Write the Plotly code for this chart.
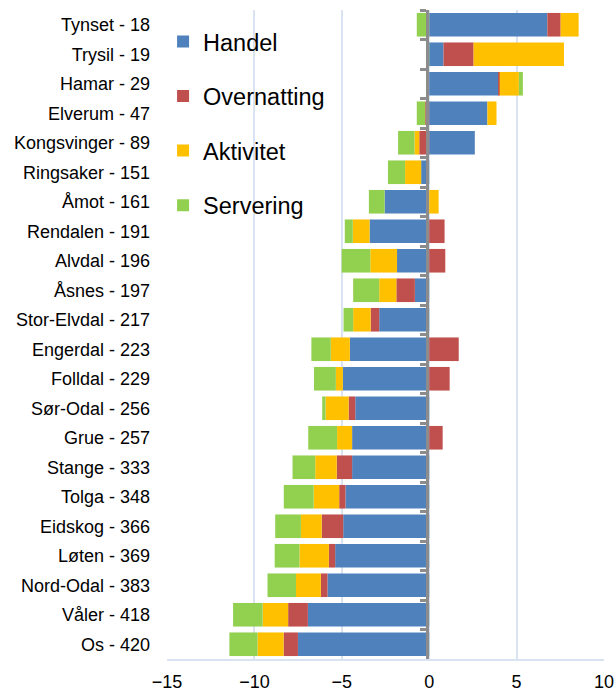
import plotly.graph_objects as go

kommuner = ["Tynset - 18", "Trysil - 19", "Hamar - 29", "Elverum - 47", "Kongsvinger - 89",
            "Ringsaker - 151", "Åmot - 161", "Rendalen - 191", "Alvdal - 196", "Åsnes - 197",
            "Stor-Elvdal - 217", "Engerdal - 223", "Folldal - 229", "Sør-Odal - 256", "Grue - 257",
            "Stange - 333", "Tolga - 348", "Eidskog - 366", "Løten - 369", "Nord-Odal - 383",
            "Våler - 418", "Os - 420"]

handel = [6.76, 0.82, 3.98, 3.33, 2.61, -0.46, -2.55, -3.41, -1.84, -0.82, -2.86,
          -4.54, -4.94, -4.23, -4.41, -4.41, -4.79, -4.92, -5.38, -5.82, -6.94, -7.51]
overnatting = [0.76, 1.72, 0.05, -0.23, -0.57, 0.0, 0.0, 0.88, 0.92, -1.06, -0.49,
               1.69, 1.17, -0.38, 0.77, -0.88, -0.36, -1.23, -0.36, -0.38, -1.13, -0.82]
aktivitet = [1.03, 5.17, 1.1, 0.52, -0.27, -0.92, 0.54, -0.96, -1.53, -0.98, -1.0,
             -1.09, -0.40, -1.32, -0.86, -1.23, -1.46, -1.19, -1.68, -1.42, -1.46, -1.49]
servering = [-0.71, -0.17, 0.23, -0.48, -0.94, -0.98, -0.9, -0.46, -1.64, -1.49, -0.55,
             -1.11, -1.25, -0.19, -1.65, -1.30, -1.71, -1.47, -1.42, -1.63, -1.69, -1.61]

series = [("Handel", handel, "#4F81BD"),
          ("Overnatting", overnatting, "#C0504D"),
          ("Aktivitet", aktivitet, "#FFC000"),
          ("Servering", servering, "#92D050")]

x_min, x_max = -15, 10
zero_frac = (0 - x_min) / (x_max - x_min)

fig = go.Figure()
for name, vals, col in series:
    fig.add_trace(go.Bar(y=kommuner, x=vals, name=name, orientation="h",
                         marker=dict(color=col, line=dict(width=0)),
                         legendgroup=name))

# invisible trace on a helper subplot whose left edge sits at x=0 (category axis line + ticks)
fig.add_trace(go.Bar(y=kommuner, x=[0] * len(kommuner), orientation="h",
                     xaxis="x2", yaxis="y2", showlegend=False, hoverinfo="skip",
                     marker=dict(opacity=0)))

fig.update_layout(
    width=616, height=691,
    barmode="relative", bargap=0.2,
    margin=dict(l=167, r=12, t=10, b=32, autoexpand=False),
    plot_bgcolor="rgba(0,0,0,0)", paper_bgcolor="white",
    font=dict(family="Liberation Sans, Arial, sans-serif", size=18, color="black"),
    xaxis=dict(range=[x_min, x_max], dtick=5, tick0=0, showgrid=True, gridcolor="#d9e3f1",
               gridwidth=1.5, zeroline=False, showline=True, linecolor="#d9e3f1",
               linewidth=1.5, ticks="", tickfont=dict(size=18), ticklabelstandoff=6,
               automargin=False),
    yaxis=dict(categoryorder="array", categoryarray=kommuner, autorange="reversed",
               showgrid=False, zeroline=False, showline=False, ticks="",
               tickfont=dict(size=18), ticklabelstandoff=16, automargin=False),
    xaxis2=dict(domain=[zero_frac, 1], anchor="y2", range=[0, x_max], visible=False),
    yaxis2=dict(domain=[0, 1], anchor="x2", side="left",
                categoryorder="array", categoryarray=kommuner, autorange="reversed",
                showgrid=False, zeroline=False, showline=True, linecolor="#8c8c8c",
                linewidth=2.5, ticks="outside", ticklen=6, tickcolor="#8c8c8c",
                tickwidth=2.5, tickson="boundaries", showticklabels=False,
                automargin=False, layer="above traces"),
    legend=dict(x=-0.009, y=0.985, xanchor="left", yanchor="top",
                font=dict(size=23.5), bgcolor="rgba(0,0,0,0)",
                traceorder="grouped", tracegroupgap=21, itemwidth=30),
)

fig.write_html("out.html", config={"displayModeBar": False},
               post_script="document.body.style.margin='0';")
